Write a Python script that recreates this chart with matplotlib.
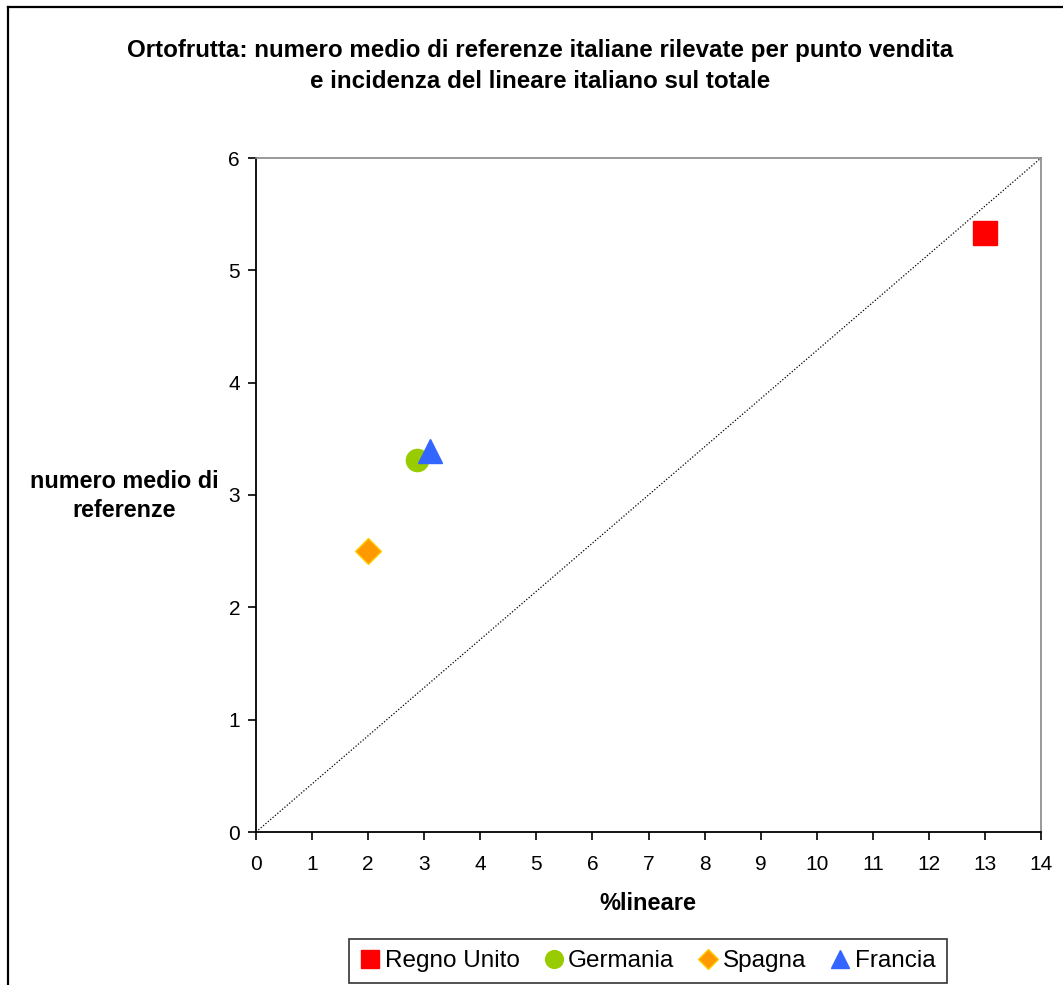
import matplotlib
matplotlib.use("Agg")
import matplotlib.pyplot as plt
from matplotlib.lines import Line2D

plt.rcParams['font.family'] = ['Liberation Sans', 'DejaVu Sans']

countries = ["Regno Unito", "Germania", "Spagna", "Francia"]
pct_lineare = [13.0, 2.87, 2.0, 3.1]
num_referenze = [5.33, 3.31, 2.5, 3.39]
colors = ["#FF0000", "#99CC00", "#FF9900", "#3366FF"]
edge_colors = ["#FF0000", "#99CC00", "#FFCC00", "#3366FF"]
markers = ["s", "o", "D", "^"]
sizes = [17, 16, 13, 17]

x_ticks = list(range(0, 15))
y_ticks = list(range(0, 7))

W, H = 1063, 985
fig = plt.figure(figsize=(W / 100, H / 100), dpi=100)

# outer chart-area frame (runs off the right and bottom edges)
fig.add_artist(Line2D([8 / W, 1.0], [1 - 7 / H, 1 - 7 / H], color="black", lw=1.6,
                      transform=fig.transFigure))
fig.add_artist(Line2D([8 / W, 8 / W], [0, 1 - 7 / H], color="black", lw=1.6,
                      transform=fig.transFigure))

ax = fig.add_axes([256 / W, 1 - 832 / H, (1041 - 256) / W, (832 - 158) / H])

# diagonal reference line
ax.plot([0, 14], [0, 6], color="black", lw=0.9, linestyle=(0, (1, 1.5)), zorder=1)

for xv, yv, c, ec, m, s, name in zip(pct_lineare, num_referenze, colors, edge_colors,
                                     markers, sizes, countries):
    ax.plot([xv], [yv], linestyle="none", marker=m, markersize=s, color=c,
            markeredgecolor=ec, markeredgewidth=1, label=name, zorder=3)

ax.set_xlim(0, 14)
ax.set_ylim(0, 6)
ax.set_xticks(x_ticks)
ax.set_yticks(y_ticks)
ax.tick_params(direction="out", length=5.5, width=1.2, labelsize=15, color="black")
ax.tick_params(axis="x", pad=11)
ax.tick_params(axis="y", pad=6)
for side in ("left", "bottom"):
    ax.spines[side].set_color("black")
    ax.spines[side].set_linewidth(1.3)
for side in ("top", "right"):
    ax.spines[side].set_color("#888888")
    ax.spines[side].set_linewidth(1.2)

fig.text(540 / W, 1 - 50 / H,
         "Ortofrutta: numero medio di referenze italiane rilevate per punto vendita",
         ha="center", va="center", fontsize=17.4, fontweight="bold")
fig.text(540 / W, 1 - 82 / H, "e incidenza del lineare italiano sul totale",
         ha="center", va="center", fontsize=17.4, fontweight="bold")

fig.text(124 / W, 1 - 496 / H, "numero medio di\nreferenze", ha="center", va="center",
         fontsize=16.8, fontweight="bold", linespacing=1.3)
fig.text(648 / W, 1 - 903 / H, "%lineare", ha="center", va="center",
         fontsize=17, fontweight="bold")

leg = fig.legend(loc="center", bbox_to_anchor=(648 / W, 1 - 961 / H), ncol=4,
                 frameon=True, fancybox=False, edgecolor="black", fontsize=17.5,
                 handlelength=0.8, handletextpad=0.2, columnspacing=1.0,
                 borderpad=0.45, markerscale=0.8)
leg.get_frame().set_linewidth(1.2)

fig.savefig("out.png", dpi=100, facecolor="white")
